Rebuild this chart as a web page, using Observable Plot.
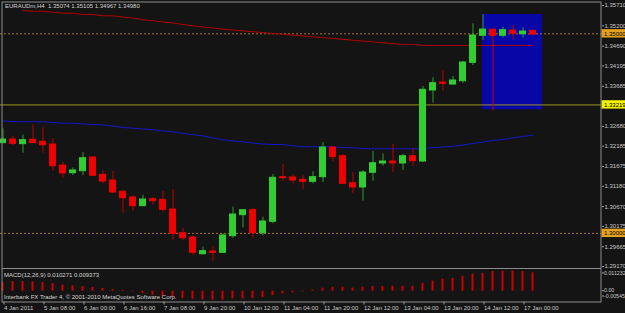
<!DOCTYPE html>
<html><head><meta charset="utf-8">
<script src="https://cdn.jsdelivr.net/npm/d3@7"></script>
<script src="https://cdn.jsdelivr.net/npm/@observablehq/plot@0.6"></script>
<style>
html,body{margin:0;padding:0;background:#141414;}
#wrap{position:relative;width:625px;height:313px;background:#141414;overflow:hidden;font-family:"Liberation Sans",Arial,sans-serif;}
#wrap svg{position:absolute;left:0;}
.lbl{position:absolute;color:#d4d4d4;font-size:6px;line-height:6px;white-space:pre;font-family:"Liberation Sans",Arial,sans-serif;}
</style></head><body>
<div id="wrap"></div>
<script>
const headerText = "EURAUDm,H4  1.35074 1.35105 1.34967 1.34980";
const macdText = "MACD(12,26,9) 0.010271 0.009373";
const copyrightText = "Interbank FX Trader 4, \u00a9 2001-2010 MetaQuotes Software Corp.";

const timeTickIndex = [0,4,8,12,16,20,24,28,32,36,40,44,48,52];
const timeTickLabels = ["4 Jan 2011","5 Jan 08:00","6 Jan 00:00","6 Jan 16:00","7 Jan 08:00","9 Jan 20:00","10 Jan 12:00","11 Jan 04:00","11 Jan 20:00","12 Jan 12:00","13 Jan 04:00","13 Jan 20:00","14 Jan 12:00","17 Jan 00:00"];
const priceTicks = [1.35710,1.35200,1.34690,1.34195,1.33685,1.32680,1.32185,1.31675,1.31180,1.30670,1.30175,1.29665,1.29170];

const open  = [1.32260,1.32352,1.32235,1.32345,1.32295,1.32227,1.31701,1.31508,1.31558,1.31901,1.31468,1.31325,1.31042,1.30899,1.30681,1.30856,1.30841,1.30598,1.30004,1.29897,1.29478,1.29546,1.29513,1.29929,1.30456,1.30581,1.30004,1.30290,1.31408,1.31400,1.31343,1.31292,1.31408,1.32152,1.31934,1.31257,1.31150,1.31518,1.31751,1.31801,1.31751,1.31934,1.31801,1.33580,1.33780,1.33730,1.33813,1.34274,1.34951,1.35101,1.34951,1.35083,1.34991,1.35074];
const high  = [1.32620,1.32427,1.32460,1.32721,1.32645,1.32370,1.31776,1.31643,1.32027,1.31915,1.31568,1.31550,1.31074,1.30942,1.30957,1.30899,1.31049,1.31099,1.30122,1.29929,1.29654,1.29671,1.29989,1.30656,1.30590,1.30623,1.30405,1.31475,1.31726,1.31475,1.31458,1.31543,1.32277,1.32160,1.31976,1.31525,1.31576,1.32052,1.31994,1.32227,1.31976,1.32119,1.33680,1.33898,1.34081,1.33931,1.34307,1.35251,1.35484,1.35133,1.35166,1.35209,1.35151,1.35105];
const low   = [1.32245,1.32202,1.32009,1.32252,1.32009,1.31550,1.31383,1.31450,1.31450,1.31430,1.31242,1.30992,1.30506,1.30556,1.30670,1.30716,1.30541,1.29822,1.29822,1.29446,1.29453,1.29303,1.29503,1.29879,1.30140,1.29879,1.29939,1.30240,1.31300,1.31242,1.31092,1.31242,1.31275,1.31794,1.31235,1.30992,1.30806,1.31307,1.31683,1.31525,1.31576,1.31683,1.31776,1.33262,1.33562,1.33713,1.33763,1.34206,1.34833,1.34908,1.34900,1.34850,1.34900,1.34967];
const close = [1.32352,1.32245,1.32335,1.32260,1.32209,1.31683,1.31500,1.31576,1.31884,1.31443,1.31300,1.31024,1.30881,1.30681,1.30849,1.30806,1.30591,1.29989,1.29879,1.29513,1.29554,1.29513,1.29947,1.30473,1.30581,1.30004,1.30298,1.31393,1.31383,1.31325,1.31292,1.31408,1.32152,1.31909,1.31242,1.31150,1.31525,1.31758,1.31801,1.31751,1.31934,1.31809,1.33598,1.33763,1.33748,1.33831,1.34282,1.34958,1.35108,1.34951,1.35091,1.35001,1.35058,1.34980];

const maSlow = [null,null,1.35584,1.35567,1.35567,1.35542,1.35517,1.35517,1.35484,1.35484,1.35452,1.35452,1.35417,1.35397,1.35351,1.35326,1.35296,1.35271,1.35234,1.35201,1.35171,1.35146,1.35116,1.35095,1.35073,1.35052,1.35031,1.35009,1.34988,1.34967,1.34946,1.34924,1.34903,1.34882,1.34861,1.34839,1.34818,1.34797,1.34776,1.34754,1.34733,1.34733,1.34707,1.34707,1.34707,1.34707,1.34707,1.34707,1.34707,1.34707,1.34707,1.34707,1.34707,1.34707];
const maFast = [1.32816,1.32803,1.32796,1.32796,1.32796,1.32778,1.32761,1.32761,1.32741,1.32728,1.32716,1.32686,1.32653,1.32635,1.32615,1.32595,1.32565,1.32545,1.32503,1.32473,1.32440,1.32390,1.32345,1.32315,1.32295,1.32260,1.32240,1.32227,1.32227,1.32194,1.32169,1.32169,1.32169,1.32164,1.32152,1.32144,1.32127,1.32119,1.32119,1.32119,1.32119,1.32119,1.32119,1.32152,1.32164,1.32184,1.32214,1.32252,1.32290,1.32327,1.32352,1.32395,1.32427,1.32460];

const macdHist = [0.0048,0.0054,0.0054,0.0052,0.0048,0.0043,0.0035,0.0030,0.0026,0.0021,0.0015,0.0009,0.0004,-0.0003,-0.0013,-0.0022,-0.0030,-0.0035,-0.0041,-0.0045,-0.0048,-0.0050,-0.0050,-0.0043,-0.0043,-0.0041,-0.0035,-0.0024,-0.0015,-0.0009,-0.0004,0.0007,0.0017,0.0022,0.0022,0.0017,0.0022,0.0026,0.0026,0.0028,0.0028,0.0028,0.0044,0.0056,0.0067,0.0072,0.0083,0.0095,0.0100,0.0110,0.01115,0.011232,0.0110,0.010271];
const macdTicks = [0.011232, 0, -0.00545];
const macdTickLabels = ["0.011232","0.00","-0.00545"];

const dottedLevels = [1.35000, 1.30000];
const solidLevels = [1.33219];
const levelLabels = ["1.35000","1.30000","1.33219"];
const zoneX = [48, 54];
const zoneY = [1.33096, 1.35484];
const markerX = 49;
const markerY = [1.33079, 1.35101];

const idx = d3.range(open.length);
const bars = idx.map(i => ({i, o: open[i], h: high[i], l: low[i], c: close[i]}));
const up = d => d.c >= d.o;
const down = d => d.c < d.o;
const levels = [
  {v: dottedLevels[0], t: levelLabels[0], bg: "#e3a11f"},
  {v: dottedLevels[1], t: levelLabels[1], bg: "#e3a11f"},
  {v: solidLevels[0], t: levelLabels[2], bg: "#f2f200"}
];

const xDomain = [-0.2, 59.9];
const FONT = "Liberation Sans, Arial, sans-serif";

const main = Plot.plot({
  width: 625, height: 268,
  marginTop: 0, marginBottom: 0, marginLeft: 0, marginRight: 24,
  x: {domain: xDomain, axis: null},
  y: {domain: [1.29120, 1.35835]},
  style: {background: "transparent", color: "#c8c8c8", fontFamily: FONT, fontSize: "6px"},
  marks: [
    Plot.rect([0], {x1: () => zoneX[0], x2: () => zoneX[1], y1: () => zoneY[0], y2: () => zoneY[1], fill: "#0707a8"}),
    Plot.ruleY(dottedLevels, {stroke: "#a8722a", strokeDasharray: "2,2", strokeWidth: 1}),
    Plot.ruleY(solidLevels, {stroke: "#9a9420", strokeWidth: 1}),
    Plot.line(idx, {x: i => i, y: i => maSlow[i], stroke: "#b00000", strokeWidth: 1, dx: 0.5}),
    Plot.line(idx, {x: i => i, y: i => maFast[i], stroke: "#1414c8", strokeWidth: 1, dx: 0.5}),
    Plot.ruleX([markerX], {x: d => d, y1: () => markerY[0], y2: () => markerY[1], stroke: "#c80000", strokeWidth: 1, dx: 0.5}),
    Plot.ruleX(bars, {filter: up, x: "i", y1: "l", y2: "h", stroke: "#2f9a2f", strokeWidth: 1, dx: 0.5}),
    Plot.ruleX(bars, {filter: down, x: "i", y1: "l", y2: "h", stroke: "#b80000", strokeWidth: 1, dx: 0.5}),
    Plot.rect(bars, {filter: up, x1: d => d.i - 0.3, x2: d => d.i + 0.3, y1: "o", y2: "c", fill: "#32cd32", stroke: "#32cd32", strokeWidth: 1, dx: 0.5}),
    Plot.rect(bars, {filter: down, x1: d => d.i - 0.3, x2: d => d.i + 0.3, y1: "o", y2: "c", fill: "#ee0000", stroke: "#ee0000", strokeWidth: 1, dx: 0.5}),
    Plot.axisY({anchor: "right", ticks: priceTicks, tickFormat: d => d.toFixed(5), tickSize: 2, tickPadding: 1, label: null, fontSize: 6, stroke: "#a0a0a0"}),
    Plot.rect(levels, {x1: () => 59.95, x2: () => 62.5, y1: d => d.v - 0.00105, y2: d => d.v + 0.00105, fill: d => d.bg}),
    Plot.text(levels, {x: () => 60.15, y: "v", text: "t", textAnchor: "start", fill: "#000000", fontSize: 6}),
    Plot.frame({stroke: "#8c8c8c", insetLeft: 1.5, insetTop: 1.5, insetRight: 0.5})
  ],
  color: {type: "identity"}
});
main.style.top = "0px";

const macd = Plot.plot({
  width: 625, height: 45,
  marginTop: 0, marginBottom: 11.5, marginLeft: 0, marginRight: 24,
  x: {domain: xDomain},
  y: {domain: [-0.0060, 0.012625]},
  style: {background: "transparent", color: "#c8c8c8", fontFamily: FONT, fontSize: "6px"},
  marks: [
    Plot.ruleX(idx, {x: i => i, y1: () => 0, y2: i => macdHist[i], stroke: "#cc0000", strokeWidth: 2}),
    Plot.axisY({anchor: "right", ticks: [macdTicks[0]], tickFormat: () => macdTickLabels[0], tickSize: 2, tickPadding: 0.5, label: null, fontSize: 5.3, stroke: "#a0a0a0", dy: 2}),
    Plot.axisY({anchor: "right", ticks: [macdTicks[1]], tickFormat: () => macdTickLabels[1], tickSize: 2, tickPadding: 0.5, label: null, fontSize: 5.3, stroke: "#a0a0a0", dy: -0.5}),
    Plot.axisY({anchor: "right", ticks: [macdTicks[2]], tickFormat: () => macdTickLabels[2], tickSize: 2, tickPadding: 0.5, label: null, fontSize: 5.3, stroke: "#a0a0a0", dy: -5}),
    Plot.axisX({anchor: "bottom", ticks: timeTickIndex, tickFormat: d => timeTickLabels[timeTickIndex.indexOf(d)], tickSize: 3, tickPadding: 0.7, textAnchor: "start", dx: 1.5, label: null, fontSize: 6, stroke: "#a0a0a0"}),
    Plot.frame({stroke: "#8c8c8c", insetLeft: 1.5, insetRight: 0.5})
  ]
});
macd.style.top = "268px";

const wrap = document.getElementById("wrap");
wrap.appendChild(main);
wrap.appendChild(macd);

function addLabel(text, left, top) {
  const d = document.createElement("div");
  d.className = "lbl";
  d.textContent = text;
  d.style.left = left + "px";
  d.style.top = top + "px";
  wrap.appendChild(d);
}
addLabel(headerText, 5, 3);
addLabel(macdText, 4, 272);
addLabel(copyrightText, 4, 294);
</script></body></html>
